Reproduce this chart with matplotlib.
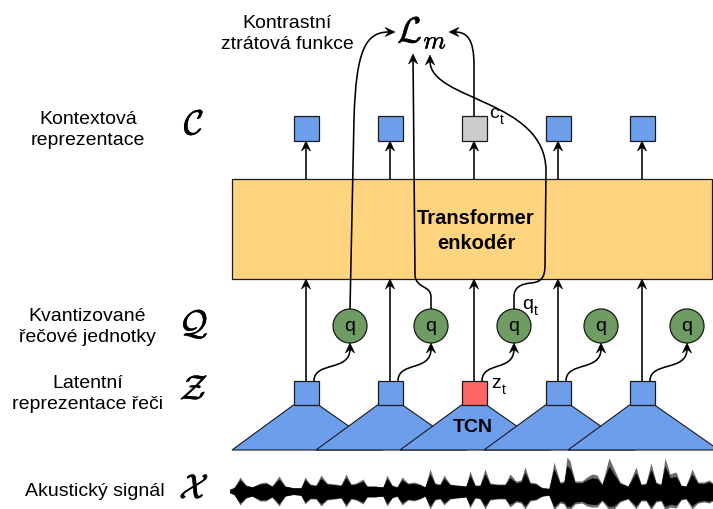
import matplotlib
matplotlib.use('Agg')
import matplotlib.pyplot as plt
from matplotlib.patches import Rectangle, Circle, Polygon, PathPatch
from matplotlib.path import Path
import matplotlib.patheffects as pe
import numpy as np

plt.rcParams['font.family'] = ['Liberation Sans', 'DejaVu Sans']

# ---------------- content ----------------
loss_title = "Kontrastní\nztrátová funkce"
layer_labels = ["Kontextová\nreprezentace", "Kvantizované\nřečové jednotky",
                "Latentní\nreprezentace řeči", "Akustický signál"]
layer_symbols = [r"$\mathcal{C}$", r"$\mathcal{Q}$", r"$\mathcal{Z}$", r"$\mathcal{X}$"]
loss_label = r"$\mathcal{L}_m$"
encoder_label = "Transformer\nenkodér"
cnn_label = "TCN"
quant_label = "q"
n_steps = 5
target_step = 2

# waveform envelope (x in px, amplitude in px)
wave_x = [230, 234, 240, 246, 252, 260, 266, 272, 279, 285,
          293, 301, 305, 310, 316, 321, 327, 335, 341, 346,
          351, 356, 363, 367, 375, 383, 387, 392, 397, 402,
          408, 414, 420, 425, 430, 435, 440, 444, 450, 458,
          466, 470, 475, 480, 485, 490, 498, 505, 510, 516,
          521, 525, 530, 536, 542, 549, 554, 560, 564, 567,
          570, 575, 582, 587, 592, 597, 602, 609, 614, 620,
          628, 636, 641, 646, 651, 656, 661, 665, 670, 676,
          681, 686, 692, 698, 704, 709, 713]
wave_up = [1, 3, 14, 6, 4, 8, 9, 5, 15, 5,
           3, 3, 14, 7, 6, 16, 8, 7, 6, 17,
           7, 8, 12, 5, 5, 4, 16, 6, 4, 14,
           8, 9, 7, 4, 22, 8, 7, 16, 7, 6,
           5, 20, 6, 6, 22, 8, 7, 7, 17, 10,
           11, 24, 9, 8, 3, 2, 29, 9, 10, 34,
           30, 10, 10, 14, 17, 16, 7, 33, 22, 9,
           5, 24, 7, 8, 28, 9, 7, 33, 17, 19,
           6, 5, 22, 9, 9, 11, 8]
wave_down = [1, 3, 14, 7, 5, 10, 10, 6, 15, 5,
             3, 4, 13, 8, 8, 15, 9, 8, 7, 16,
             8, 9, 13, 6, 6, 5, 15, 7, 5, 14,
             9, 10, 8, 5, 18, 9, 8, 14, 8, 7,
             6, 17, 7, 8, 18, 9, 8, 8, 16, 11,
             12, 18, 10, 9, 5, 4, 19, 12, 13, 19,
             19, 13, 12, 15, 16, 16, 10, 19, 18, 11,
             8, 18, 10, 10, 19, 11, 10, 19, 16, 17,
             9, 8, 18, 12, 11, 12, 10]

# ---------------- styles ----------------
BLUE = '#6D9EEB'
RED = '#FF6666'
GRAY = '#CCCCCC'
GREEN = '#6F9C62'
ORANGE = '#FFD47F'
EDGE = '#1A1A1A'

fig = plt.figure(figsize=(7.13, 5.10), dpi=100)
ax = fig.add_axes([0, 0, 1, 1])
ax.set_xlim(0, 713)
ax.set_ylim(510, 0)
ax.axis('off')

col_x = [306 + 84 * i for i in range(n_steps)]
q_x = [350, 431, 514, 601, 687]


def arrow(verts, codes=None, lw=1.15, z=5):
    verts = [np.array(v, dtype=float) for v in verts]
    tip = verts[-1]
    prev = verts[-2]
    d = tip - prev
    d = d / np.hypot(*d)
    n = np.array([-d[1], d[0]])
    L, W = 10.0, 4.6
    v2 = verts[:-1] + [tip - 0.6 * L * d]
    ax.add_patch(PathPatch(Path(v2, codes), fill=False, lw=lw, ec='black',
                           capstyle='butt', zorder=z))
    pts = [tip, tip - L * d + W * n, tip - 0.62 * L * d, tip - L * d - W * n]
    ax.add_patch(Polygon(pts, closed=True, fc='black', ec='black', lw=0.4,
                         zorder=z + 1))


M, C4, LT = Path.MOVETO, Path.CURVE4, Path.LINETO
bold_fx = [pe.withStroke(linewidth=0.35, foreground='black')]

# transformer box
ax.add_patch(Rectangle((232, 180), 480, 100, fc=ORANGE, ec=EDGE, lw=0.9, zorder=1))
ax.text(476, 231, encoder_label, ha='center', va='center', fontsize=14.5,
        fontweight='bold', linespacing=1.35, zorder=3)

# TCN trapezoids
for c in col_x:
    ax.add_patch(Polygon([(c - 12.5, 406), (c + 12.5, 406), (c + 77, 451), (c - 74, 451)],
                         closed=True, fc=BLUE, ec=EDGE, lw=0.8, zorder=2))
ax.text(473, 428, cnn_label, ha='center', va='center', fontsize=14,
        fontweight='bold', zorder=4)

# latent squares z, vertical arrows, arrows to q
for i, c in enumerate(col_x):
    fc = RED if i == target_step else BLUE
    ax.add_patch(Rectangle((c - 12.5, 382), 25, 24, fc=fc, ec=EDGE, lw=0.9, zorder=4))
    arrow([(c, 382), (c, 280)])
    qx = q_x[i]
    arrow([(c + 8, 382), (c + 8, 362), (qx, 373), (qx, 344)], [M, C4, C4, C4])
    ax.add_patch(Circle((qx, 327), 17, fc=GREEN, ec=EDGE, lw=0.9, zorder=4))
    ax.text(qx, 327, quant_label, ha='center', va='center', fontsize=14, zorder=5)
    # context squares
    fc2 = GRAY if i == target_step else BLUE
    ax.add_patch(Rectangle((c - 12.5, 117), 25, 25, fc=fc2, ec=EDGE, lw=0.9, zorder=4))
    arrow([(c, 180), (c, 142)])

# paths to the loss
arrow([(350, 310), (354, 120), (356, 50), (366, 33), (395, 33)],
      [M, LT, C4, C4, C4])
arrow([(431, 310), (431, 298), (431, 286), (416, 290), (415, 276), (413, 55)],
      [M, LT, C4, C4, C4, LT])
arrow([(514, 310), (514, 298), (514, 288), (521, 285), (531, 284),
       (541, 283), (545, 279), (545, 266), (546, 172),
       (546, 100), (430, 102), (430, 56)],
      [M, LT, C4, C4, C4, C4, C4, C4, LT, C4, C4, C4])
arrow([(474, 117), (474, 66), (474, 40), (467, 33), (449, 33)],
      [M, LT, C4, C4, C4])

# loss
ax.text(422, 34, loss_label, ha='center', va='center', fontsize=26,
        math_fontfamily='cm', zorder=6, path_effects=bold_fx)
ax.text(287, 34, loss_title, ha='center', va='center', fontsize=14, linespacing=1.3)

# subscripted labels
for (bx, by, ch) in [(494, 114, 'c'), (496, 384, 'z'), (528, 305, 'q')]:
    ax.text(bx, by, ch, ha='center', va='center', fontsize=14, zorder=6)
    ax.text(bx + 8, by + 6, 't', ha='center', va='center', fontsize=10, zorder=6)

# left labels and symbols
label_y = [130, 327, 394, 492]
label_xc = [88, 87, 88, 95]
sym_y = [126, 326, 391, 490]
for lab, ly, lx, sym, sy in zip(layer_labels, label_y, label_xc, layer_symbols, sym_y):
    ax.text(lx, ly, lab, ha='center', va='center', fontsize=14, linespacing=1.3)
    ax.text(194, sy, sym, ha='center', va='center', fontsize=25, math_fontfamily='cm',
            path_effects=bold_fx)

# waveform: soft grey outer envelope with a dark core
wx = np.array(wave_x, float)
up = np.array(wave_up, float)
dn = np.array(wave_down, float)
ax.fill_between(wx, 492 - up, 492 + dn, color='#6a6a6a', lw=0, zorder=3)
ax.fill_between(wx, 492 - 0.7 * up - 1, 492 + 0.75 * dn + 1, color='black', lw=0.4, zorder=3)

fig.savefig('out.png', dpi=100)
